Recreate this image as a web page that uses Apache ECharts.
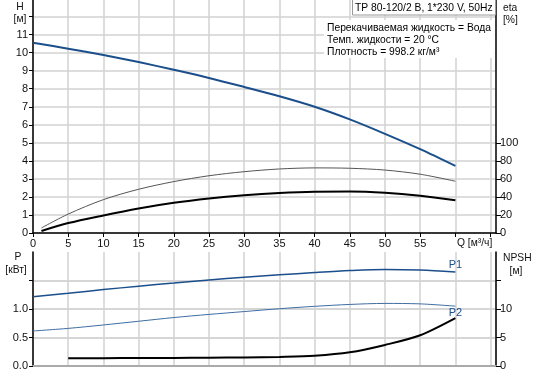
<!DOCTYPE html>
<html><head><meta charset="utf-8">
<script src="https://cdn.jsdelivr.net/npm/echarts@6/dist/echarts.min.js"></script>
<style>html,body{margin:0;padding:0;background:#fff}#c{width:536px;height:374px}</style>
</head><body><div id="c"></div>
<script>
// Top chart: head H [m] vs Q [m3/h]
const qH = [0, 5, 10, 15, 20, 25, 30, 35, 40, 45, 50, 55, 60];
const head = [10.55, 10.22, 9.87, 9.48, 9.05, 8.6, 8.1, 7.58, 7.0, 6.3, 5.5, 4.65, 3.72];
// Efficiency curves [%]
const qEta = [1.2, 5, 10, 15, 20, 25, 30, 35, 40, 45, 50, 55, 60];
const etaThin = [5.6, 21, 37, 48.5, 57, 63.5, 68, 71, 72.2, 71.8, 69.8, 65.2, 57.4];
const etaThick = [2.2, 11, 19.5, 27.2, 33.5, 38.3, 41.9, 44.4, 45.8, 46, 44.6, 41.3, 36.4];
// Bottom chart: power [kW] and NPSH [m]
const qP = [0, 5, 10, 15, 20, 25, 30, 35, 40, 45, 50, 55, 60];
const p1 = [1.216, 1.275, 1.34, 1.40, 1.455, 1.51, 1.556, 1.60, 1.64, 1.675, 1.695, 1.684, 1.65];
const p2 = [0.614, 0.66, 0.72, 0.785, 0.85, 0.905, 0.955, 1.005, 1.047, 1.08, 1.098, 1.09, 1.05];
const qNpsh = [5, 10, 15, 20, 25, 30, 35, 40, 45, 50, 55, 60];
const npsh = [1.35, 1.37, 1.4, 1.42, 1.45, 1.5, 1.6, 1.8, 2.4, 3.7, 5.4, 8.4];
// Tick labels
const qLabels = [0, 5, 10, 15, 20, 25, 30, 35, 40, 45, 50, 55];
const qTicks = [0, 5, 10, 15, 20, 25, 30, 35, 40, 45, 50, 55, 60, 65];
const hLabels = [0, 1, 2, 3, 4, 5, 6, 7, 8, 9, 10, 11];
const hTicks = [0, 1, 2, 3, 4, 5, 6, 7, 8, 9, 10, 11, 12];
const etaLabels = [0, 20, 40, 60, 80, 100];
const pLabels = [0, 0.5, 1.0];
const pTicks = [0, 0.5, 1.0, 1.5];
const npshLabels = [0, 5, 10];
const npshTicks = [0, 5, 10, 15];
const texts = {
  title: 'TP 80-120/2 B, 1*230 V, 50Hz',
  info: ['Перекачиваемая жидкость = Вода', 'Темп. жидкости = 20 °C', 'Плотность = 998.2 кг/м³']
};

const FONT = '"Liberation Sans", Arial, sans-serif';
const F = '10.3px ' + FONT;
const BLUE = '#1b4f8b';
const zip = (xs, ys) => xs.map((x, i) => [x, ys[i]]);
const withEndLabel = (xs, ys, txt, pos) => xs.map((x, i) => i === xs.length - 1
  ? { value: [x, ys[i]], label: { show: true, formatter: txt, position: pos, distance: 1, color: BLUE, fontSize: 11, fontFamily: FONT } }
  : [x, ys[i]]);

const lbl = (vals, fmt) => ({ show: true, customValues: vals, color: '#111', fontSize: 11, fontFamily: FONT, formatter: fmt });
const split = { show: true, lineStyle: { color: '#d2d2d2', width: 1.5 } };
const curve = { type: 'line', smooth: 0.3, showSymbol: false };

const chart = echarts.init(document.getElementById('c'), null, { renderer: 'canvas' });
chart.setOption({
  animation: false,
  backgroundColor: '#fff',
  grid: [
    { left: 33, top: 0, width: 463, height: 233 },
    { left: 33, top: 252, width: 463, height: 114 }
  ],
  xAxis: [
    { gridIndex: 0, type: 'value', min: 0, max: 65.77, interval: 5,
      axisLine: { show: true, lineStyle: { color: '#000', width: 1.5 } },
      axisTick: { show: true, length: 4, customValues: qTicks, lineStyle: { color: '#000' } },
      axisLabel: Object.assign(lbl(qLabels), { margin: 5 }),
      splitLine: split },
    { gridIndex: 1, type: 'value', min: 0, max: 65.77, interval: 5,
      axisLine: { show: true, lineStyle: { color: '#aaa', width: 2 } },
      axisTick: { show: false }, axisLabel: { show: false },
      splitLine: split }
  ],
  yAxis: [
    { gridIndex: 0, type: 'value', position: 'left', min: 0, max: 12.92, interval: 1,
      axisLine: { show: true, lineStyle: { color: '#000', width: 1.5 } },
      axisTick: { show: true, length: 4, customValues: hTicks, lineStyle: { color: '#000' } },
      axisLabel: Object.assign(lbl(hLabels), { margin: 5 }),
      splitLine: split },
    { gridIndex: 0, type: 'value', position: 'right', min: 0, max: 258.4, interval: 20,
      axisLine: { show: true, lineStyle: { color: '#000', width: 1.5 } },
      axisTick: { show: true, length: 5, customValues: etaLabels, lineStyle: { color: '#000' } },
      axisLabel: Object.assign(lbl(etaLabels), { margin: 4 }),
      splitLine: { show: false } },
    { gridIndex: 1, type: 'value', position: 'left', min: 0, max: 2, interval: 0.5,
      axisLine: { show: true, lineStyle: { color: '#000', width: 1.5 } },
      axisTick: { show: true, length: 4, customValues: pTicks, lineStyle: { color: '#000' } },
      axisLabel: Object.assign(lbl(pLabels, v => v.toFixed(1)), { margin: 5 }),
      splitLine: { show: true, lineStyle: { color: '#c8c8c8', width: 1.5 } } },
    { gridIndex: 1, type: 'value', position: 'right', min: 0, max: 20, interval: 5,
      axisLine: { show: true, lineStyle: { color: '#000', width: 1.5 } },
      axisTick: { show: true, length: 5, customValues: npshTicks, lineStyle: { color: '#000' } },
      axisLabel: Object.assign(lbl(npshLabels), { margin: 4 }),
      splitLine: { show: false } }
  ],
  series: [
    Object.assign({}, curve, { xAxisIndex: 0, yAxisIndex: 0, data: zip(qH, head), lineStyle: { color: BLUE, width: 2 }, z: 5 }),
    Object.assign({}, curve, { xAxisIndex: 0, yAxisIndex: 1, data: zip(qEta, etaThin), lineStyle: { color: '#555', width: 1 } }),
    Object.assign({}, curve, { xAxisIndex: 0, yAxisIndex: 1, data: zip(qEta, etaThick), lineStyle: { color: '#000', width: 2 } }),
    Object.assign({}, curve, { xAxisIndex: 1, yAxisIndex: 2, data: withEndLabel(qP, p1, 'P1', 'top'),
      showSymbol: true, symbol: 'circle', symbolSize: 1, itemStyle: { color: 'rgba(0,0,0,0)' },
      lineStyle: { color: BLUE, width: 1.5 } }),
    Object.assign({}, curve, { xAxisIndex: 1, yAxisIndex: 2, data: withEndLabel(qP, p2, 'P2', 'bottom'),
      showSymbol: true, symbol: 'circle', symbolSize: 1, itemStyle: { color: 'rgba(0,0,0,0)' },
      lineStyle: { color: '#3e6da3', width: 1 } }),
    Object.assign({}, curve, { xAxisIndex: 1, yAxisIndex: 3, data: zip(qNpsh, npsh), lineStyle: { color: '#000', width: 2 } })
  ],
  graphic: [
    { type: 'rect', shape: { x: 324, y: 20, width: 171, height: 38 }, style: { fill: '#fff' }, z: 10 },
    { type: 'rect', shape: { x: 352.5, y: -1, width: 143, height: 16 }, style: { fill: '#fff', stroke: '#999', lineWidth: 1 }, z: 10 },
    { type: 'text', x: 355, y: 8, style: { text: texts.title, font: F, fill: '#000', textVerticalAlign: 'middle' }, z: 11 },
    { type: 'text', x: 327, y: 28, style: { text: texts.info[0], font: F, fill: '#000', textVerticalAlign: 'middle' }, z: 11 },
    { type: 'text', x: 327, y: 40, style: { text: texts.info[1], font: F, fill: '#000', textVerticalAlign: 'middle' }, z: 11 },
    { type: 'text', x: 327, y: 52, style: { text: texts.info[2], font: F, fill: '#000', textVerticalAlign: 'middle' }, z: 11 },
    { type: 'text', x: 20, y: 7, style: { text: 'H', font: F, fill: '#111', textAlign: 'center', textVerticalAlign: 'middle' }, z: 11 },
    { type: 'text', x: 20, y: 19, style: { text: '[м]', font: F, fill: '#111', textAlign: 'center', textVerticalAlign: 'middle' }, z: 11 },
    { type: 'text', x: 503, y: 8, style: { text: 'eta', font: F, fill: '#111', textVerticalAlign: 'middle' }, z: 11 },
    { type: 'text', x: 503, y: 20, style: { text: '[%]', font: F, fill: '#111', textVerticalAlign: 'middle' }, z: 11 },
    { type: 'text', x: 457, y: 243, style: { text: 'Q [м³/ч]', font: F, fill: '#111', textVerticalAlign: 'middle' }, z: 11 },
    { type: 'text', x: 18, y: 257, style: { text: 'P', font: F, fill: '#111', textAlign: 'center', textVerticalAlign: 'middle' }, z: 11 },
    { type: 'text', x: 16, y: 270, style: { text: '[кВт]', font: F, fill: '#111', textAlign: 'center', textVerticalAlign: 'middle' }, z: 11 },
    { type: 'text', x: 503, y: 258, style: { text: 'NPSH', font: F, fill: '#111', textVerticalAlign: 'middle' }, z: 11 },
    { type: 'text', x: 516, y: 271, style: { text: '[м]', font: F, fill: '#111', textAlign: 'center', textVerticalAlign: 'middle' }, z: 11 }
  ]
});
</script>
</body></html>
